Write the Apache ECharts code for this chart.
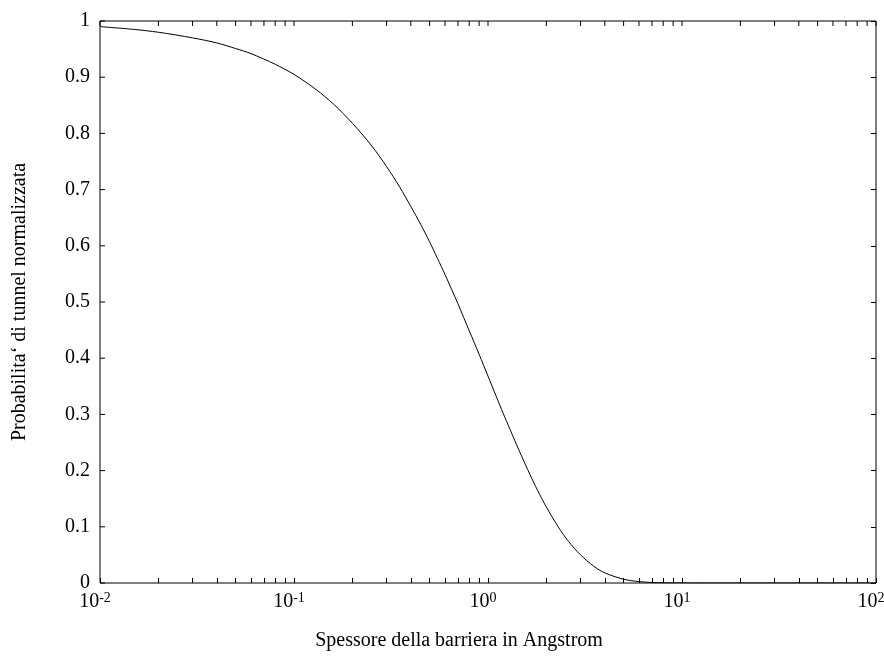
<!DOCTYPE html>
<html>
<head>
<meta charset="utf-8">
<script src="https://cdn.jsdelivr.net/npm/echarts@6/dist/echarts.min.js"></script>
<style>
html,body{margin:0;padding:0;background:#fff;}
#chart{width:884px;height:659px;}
</style>
</head>
<body>
<div id="chart"></div>
<script>
// Barrier thickness (Angstrom)
const thickness = [0.01, 0.015, 0.02, 0.03, 0.04, 0.05, 0.06, 0.08, 0.1, 0.13, 0.16, 0.2, 0.25, 0.3, 0.35, 0.4, 0.45, 0.5, 0.55, 0.6, 0.65, 0.7, 0.75, 0.8, 0.9, 1.0, 1.1, 1.2, 1.3, 1.4, 1.6, 1.8, 2.0, 2.3, 2.6, 3.0, 3.5, 4.0, 5.0, 6.0, 7.0, 8.0, 10, 15, 20, 30, 50, 100];
// Normalized tunnelling probability
const probability = [0.990, 0.985, 0.980, 0.970, 0.961, 0.951, 0.942, 0.923, 0.905, 0.878, 0.852, 0.818, 0.779, 0.741, 0.705, 0.670, 0.638, 0.607, 0.577, 0.549, 0.522, 0.497, 0.472, 0.449, 0.407, 0.368, 0.333, 0.301, 0.273, 0.247, 0.202, 0.165, 0.135, 0.100, 0.074, 0.050, 0.030, 0.018, 0.0067, 0.0025, 0.0009, 0.0003, 0.00005, 0, 0, 0, 0, 0];
// Axis ticks
const xDecades = [0.01, 0.1, 1, 10, 100];
const xMinorMultipliers = [1, 2, 3, 4, 5, 6, 7, 8, 9];
const yTickValues = [0, 0.1, 0.2, 0.3, 0.4, 0.5, 0.6, 0.7, 0.8, 0.9, 1];
const xTitle = 'Spessore della barriera in Angstrom';
const yTitle = 'Probabilita\u2018 di tunnel normalizzata';

const xTickValues = [];
xDecades.slice(0, -1).forEach(d => xMinorMultipliers.forEach(m => xTickValues.push(+(d * m).toPrecision(6))));
xTickValues.push(xDecades[xDecades.length - 1]);

const FONT = '"Liberation Serif", "DejaVu Serif", serif';
const TICK = 5;
const X_MIN = xDecades[0], X_MAX = xDecades[xDecades.length - 1];
const Y_MIN = yTickValues[0], Y_MAX = yTickValues[yTickValues.length - 1];
const chart = echarts.init(document.getElementById('chart'), null, {renderer: 'canvas'});

const noLine = {show: false, onZero: false};
const tick = (extra) => Object.assign({show: true, inside: true, length: TICK, lineStyle: {color: '#000', width: 1}}, extra || {});

const option = {
  animation: false,
  backgroundColor: '#fff',
  grid: {left: 100, right: 8, top: 21, bottom: 76, containLabel: false, outerBoundsMode: 'none',
         show: true, borderColor: '#000', borderWidth: 1, backgroundColor: 'transparent'},
  xAxis: [{
    type: 'log', logBase: 10, min: X_MIN, max: X_MAX, position: 'bottom',
    axisLine: noLine,
    axisTick: tick({customValues: xTickValues}),
    splitLine: {show: false},
    name: xTitle, nameLocation: 'middle', nameGap: 48,
    nameTextStyle: {fontFamily: FONT, fontSize: 20, color: '#000', padding: [0, 58, 0, 0]},
    axisLabel: {
      customValues: xDecades, margin: 8, padding: [0, 10, 0, 0], color: '#000',
      formatter: v => '{b|10}{s|' + Math.round(Math.log10(v)) + '}',
      rich: {
        b: {fontFamily: FONT, fontSize: 20, lineHeight: 22, color: '#000'},
        s: {fontFamily: FONT, fontSize: 14, lineHeight: 14, verticalAlign: 'top', color: '#000'}
      }
    }
  }],
  yAxis: [{
    type: 'value', min: Y_MIN, max: Y_MAX, interval: 0.1, position: 'left',
    axisLine: noLine,
    axisTick: {show: false},
    splitLine: {show: false},
    name: yTitle, nameLocation: 'middle', nameGap: 70, nameRotate: 90,
    nameTextStyle: {fontFamily: FONT, fontSize: 20, color: '#000'},
    axisLabel: {margin: 10, fontFamily: FONT, fontSize: 20, color: '#000',
      formatter: v => String(+v.toFixed(1))}
  }, {
    type: 'value', min: Y_MIN, max: Y_MAX, interval: 0.1, position: 'right',
    axisLine: noLine,
    axisTick: tick(),
    axisLabel: {show: false},
    splitLine: {show: false}
  }],
  series: [{
    type: 'line', xAxisIndex: 0, yAxisIndex: 0,
    data: thickness.map((x, i) => [x, probability[i]]),
    showSymbol: false, smooth: 0.3,
    lineStyle: {color: '#000', width: 1}
  }]
};
chart.setOption(option);

// Inward ticks on the left and top edges, positioned through the chart's own scales
const toPx = (x, y) => chart.convertToPixel({xAxisIndex: 0, yAxisIndex: 0}, [x, y]);
const tickLines = [];
yTickValues.forEach(v => {
  const p = toPx(X_MIN, v);
  tickLines.push({type: 'line', z: 100, silent: true,
    shape: {x1: p[0], y1: p[1], x2: p[0] + TICK, y2: p[1]},
    style: {stroke: '#000', lineWidth: 1}});
});
xTickValues.forEach(v => {
  const p = toPx(v, Y_MAX);
  tickLines.push({type: 'line', z: 100, silent: true,
    shape: {x1: p[0], y1: p[1], x2: p[0], y2: p[1] + TICK},
    style: {stroke: '#000', lineWidth: 1}});
});
chart.setOption({graphic: {elements: tickLines}});
</script>
</body>
</html>
